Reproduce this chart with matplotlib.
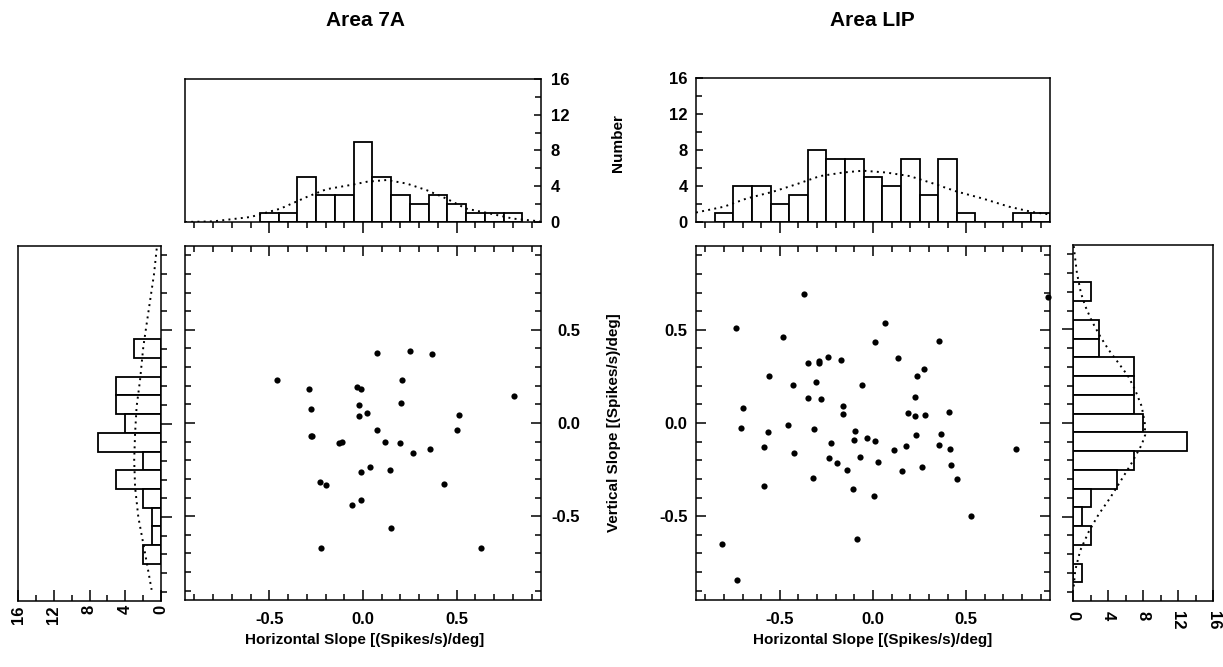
import numpy as np
import matplotlib
matplotlib.use('Agg')
import matplotlib.pyplot as plt
from matplotlib.ticker import MultipleLocator

plt.rcParams['font.family'] = 'Liberation Sans'
plt.rcParams['font.weight'] = 'bold'
plt.rcParams['axes.unicode_minus'] = False
plt.rcParams['axes.linewidth'] = 1.1

# ---- data ----
# Area 7A horizontal slope histogram
h7a_centers = [-0.5, -0.4, -0.3, -0.2, -0.1, 0.0, 0.1, 0.2, 0.3, 0.4, 0.5, 0.6, 0.7, 0.8]
h7a_counts = [1, 1, 5, 3, 3, 9, 5, 3, 2, 3, 2, 1, 1, 1]
h7a_fit_x = [-0.95, -0.80, -0.60, -0.44, -0.30, -0.195, -0.05, 0.02, 0.127, 0.233, 0.34, 0.447, 0.55, 0.68, 0.80, 0.945]
h7a_fit_n = [0.0, 0.07, 0.56, 1.5, 2.8, 3.67, 4.2, 4.5, 4.7, 4.3, 3.56, 2.6, 1.5, 0.94, 0.38, 0.07]

# Area 7A vertical slope histogram
v7a_centers = [0.4, 0.3, 0.2, 0.1, 0.0, -0.1, -0.2, -0.3, -0.4, -0.5, -0.6, -0.7]
v7a_counts = [3, 0, 5, 5, 4, 7, 2, 5, 2, 1, 1, 2]
v7a_fit_y = [0.936, 0.80, 0.535, 0.41, 0.23, 0.09, -0.053, -0.196, -0.34, -0.5, -0.69, -0.89]
v7a_fit_n = [0.48, 0.78, 1.6, 1.98, 2.35, 2.73, 2.9, 3.0, 2.9, 2.54, 1.8, 1.05]

# Area 7A scatter
s7a_x = [-0.46, -0.29, -0.28, -0.28, -0.27, -0.23, -0.20, -0.225, -0.13, -0.11, -0.03, -0.01,
         -0.02, -0.02, 0.02, -0.01, 0.04, -0.06, -0.01, 0.075, 0.075, 0.115, 0.145, 0.15,
         0.20, 0.21, 0.205, 0.265, 0.25, 0.37, 0.355, 0.43, 0.50, 0.515, 0.63, 0.805]
s7a_y = [0.23, 0.18, 0.076, -0.07, -0.07, -0.315, -0.335, -0.67, -0.105, -0.10, 0.195, 0.18,
         0.095, 0.035, 0.055, -0.265, -0.235, -0.44, -0.415, 0.375, -0.04, -0.10, -0.25, -0.565,
         -0.105, 0.23, 0.105, -0.16, 0.385, 0.37, -0.14, -0.33, -0.035, 0.045, -0.67, 0.145]

# Area LIP horizontal slope histogram
hlip_centers = [-0.8, -0.7, -0.6, -0.5, -0.4, -0.3, -0.2, -0.1, 0.0, 0.1, 0.2, 0.3, 0.4, 0.5, 0.6, 0.7, 0.8, 0.9]
hlip_counts = [1, 4, 4, 2, 3, 8, 7, 7, 5, 4, 7, 3, 7, 1, 0, 0, 1, 1]
hlip_fit_x = [-0.95, -0.80, -0.68, -0.536, -0.41, -0.285, -0.16, -0.054, 0.07, 0.197, 0.32, 0.447, 0.59, 0.73, 0.857, 0.94]
hlip_fit_n = [1.05, 1.7, 2.6, 3.37, 4.2, 5.1, 5.5, 5.7, 5.5, 5.1, 4.3, 3.4, 2.6, 1.7, 1.1, 0.86]

# Area LIP vertical slope histogram
vlip_centers = [0.7, 0.6, 0.5, 0.4, 0.3, 0.2, 0.1, 0.0, -0.1, -0.2, -0.3, -0.4, -0.5, -0.6, -0.7, -0.8]
vlip_counts = [2, 0, 3, 3, 7, 7, 7, 8, 13, 7, 5, 2, 1, 2, 0, 1]
vlip_fit_y = [0.944, 0.873, 0.80, 0.695, 0.624, 0.543, 0.463, 0.392, 0.32, 0.25, 0.178, 0.089, 0.0,
              -0.063, -0.116, -0.214, -0.30, -0.40, -0.49, -0.58, -0.68, -0.785, -0.874]
vlip_fit_n = [0.08, 0.26, 0.45, 0.9, 1.4, 2.16, 3.1, 4.05, 5.2, 6.3, 7.09, 7.85, 8.2,
              8.25, 7.85, 6.7, 5.57, 4.24, 2.9, 1.8, 0.83, 0.26, 0.08]

# Area LIP scatter
slip_x = [-0.81, -0.73, -0.737, -0.70, -0.71, -0.587, -0.585, -0.566, -0.56, -0.484, -0.455, -0.43,
          -0.426, -0.37, -0.348, -0.35, -0.323, -0.318, -0.307, -0.29, -0.289, -0.278, -0.24, -0.237,
          -0.227, -0.194, -0.17, -0.162, -0.16, -0.137, -0.11, -0.098, -0.10, -0.084, -0.07, -0.059,
          -0.03, 0.009, 0.009, 0.004, 0.027, 0.063, 0.113, 0.132, 0.157, 0.179, 0.188, 0.225,
          0.227, 0.229, 0.234, 0.261, 0.273, 0.28, 0.354, 0.355, 0.364, 0.41, 0.414, 0.42,
          0.45, 0.525, 0.77, 0.94]
slip_y = [-0.647, -0.84, 0.511, 0.08, -0.029, -0.127, -0.339, -0.05, 0.25, 0.46, -0.011, 0.205,
          -0.16, 0.69, 0.32, 0.135, -0.296, -0.034, 0.222, 0.335, 0.324, 0.13, 0.355, -0.19,
          -0.109, -0.216, 0.34, 0.089, 0.05, -0.25, -0.353, -0.041, -0.089, -0.622, -0.184, 0.206,
          -0.082, 0.433, -0.096, -0.39, -0.21, 0.538, -0.146, 0.347, -0.255, -0.121, 0.053, 0.137,
          0.039, -0.064, 0.253, -0.235, 0.289, 0.041, 0.442, -0.116, -0.059, 0.06, -0.141, -0.225,
          -0.298, -0.497, -0.141, 0.677]

slope_lim = (-0.95, 0.95)
count_lim = (0, 16)
tick_fs = 12
label_fs = 11
title_fs = 15

W, H = 1223, 667
fig = plt.figure(figsize=(W / 100, H / 100), dpi=100)


def box(x0, x1, y0, y1):
    # pixel box -> figure axes
    return fig.add_axes([x0 / W, 1 - y1 / H, (x1 - x0) / W, (y1 - y0) / H])


def slope_loc(axis):
    axis.set_major_locator(MultipleLocator(0.5))
    axis.set_minor_locator(MultipleLocator(0.1))


def count_loc(axis):
    axis.set_major_locator(MultipleLocator(4))
    axis.set_minor_locator(MultipleLocator(2))


bar_kw = dict(facecolor='white', edgecolor='black', linewidth=1.3)
fit_kw = dict(color='black', linestyle=(0, (1, 2.2)), linewidth=1.4)


def top_hist(ax, centers, counts, fx, fn, side):
    ax.bar(centers, counts, width=0.1, **bar_kw)
    ax.plot(fx, fn, **fit_kw)
    ax.set_xlim(slope_lim)
    ax.set_ylim(count_lim)
    slope_loc(ax.xaxis)
    count_loc(ax.yaxis)
    ax.tick_params(axis='x', which='both', direction='out', bottom=True, top=False, labelbottom=False)
    ax.tick_params(axis='x', which='major', length=8, width=1.1)
    ax.tick_params(axis='x', which='minor', length=4, width=1.1)
    if side == 'right':
        ax.tick_params(axis='y', which='both', direction='in', left=False, right=True,
                       labelleft=False, labelright=True, labelsize=tick_fs, pad=7)
    else:
        ax.tick_params(axis='y', which='both', direction='in', left=True, right=False,
                       labelleft=True, labelright=False, labelsize=tick_fs, pad=6)
    ax.tick_params(axis='y', which='major', length=5, width=1.1)
    ax.tick_params(axis='y', which='minor', length=4, width=1.1)


def side_hist(ax, centers, counts, fy, fn, side):
    ax.barh(centers, counts, height=0.1, **bar_kw)
    ax.plot(fn, fy, **fit_kw)
    ax.set_ylim(slope_lim)
    if side == 'left':
        ax.set_xlim(count_lim[::-1])
    else:
        ax.set_xlim(count_lim)
    slope_loc(ax.yaxis)
    count_loc(ax.xaxis)
    if side == 'left':
        ax.tick_params(axis='y', which='both', direction='out', left=False, right=True,
                       labelleft=False, labelright=False)
        ax.tick_params(axis='x', which='both', direction='in', labelsize=tick_fs,
                       labelrotation=90, pad=3)
    else:
        ax.tick_params(axis='y', which='both', direction='out', left=True, right=False,
                       labelleft=False, labelright=False)
        ax.tick_params(axis='x', which='both', direction='in', labelsize=tick_fs,
                       labelrotation=270, pad=7)
    ax.tick_params(which='major', length=8, width=1.1)
    ax.tick_params(which='minor', length=4, width=1.1)


def scatter_panel(ax, xs, ys, side):
    ax.scatter(xs, ys, s=20, color='black', linewidths=0, clip_on=False, zorder=3)
    ax.set_xlim(slope_lim)
    ax.set_ylim(slope_lim)
    slope_loc(ax.xaxis)
    slope_loc(ax.yaxis)
    ax.tick_params(which='both', direction='in', top=True, bottom=True, left=True, right=True,
                   labelsize=tick_fs, width=1.1)
    ax.tick_params(which='major', length=7)
    ax.tick_params(which='minor', length=4)
    ax.tick_params(axis='x', pad=9)
    ax.set_xticks([-0.5, 0.0, 0.5])
    ax.set_xticklabels(['-0.5', '0.0', '0.5'])
    ax.set_yticks([-0.5, 0.0, 0.5])
    ax.set_yticklabels(['-0.5', '0.0', '0.5'])
    if side == 'right':
        ax.tick_params(axis='y', labelleft=False, labelright=True, pad=28)
        for lab in ax.get_yticklabels():
            lab.set_horizontalalignment('right')
    else:
        ax.tick_params(axis='y', labelleft=True, labelright=False, pad=6)


# Area 7A
ax1 = box(185, 541, 79, 222)
top_hist(ax1, h7a_centers, h7a_counts, h7a_fit_x, h7a_fit_n, 'right')
ax2 = box(185, 541, 246, 600)
scatter_panel(ax2, s7a_x, s7a_y, 'right')
ax3 = box(18, 161, 246, 601)
side_hist(ax3, v7a_centers, v7a_counts, v7a_fit_y, v7a_fit_n, 'left')

# Area LIP
ax4 = box(696, 1050, 78, 222)
top_hist(ax4, hlip_centers, hlip_counts, hlip_fit_x, hlip_fit_n, 'left')
ax5 = box(696, 1050, 246, 600)
scatter_panel(ax5, slip_x, slip_y, 'left')
ax6 = box(1073, 1213, 245, 601)
side_hist(ax6, vlip_centers, vlip_counts, vlip_fit_y, vlip_fit_n, 'right')

# texts
fig.text(365 / W, 1 - 20 / H, 'Area 7A', ha='center', va='center', fontsize=title_fs, fontweight='bold')
fig.text(872 / W, 1 - 20 / H, 'Area LIP', ha='center', va='center', fontsize=title_fs, fontweight='bold')
fig.text(365 / W, 1 - 640 / H, 'Horizontal Slope [(Spikes/s)/deg]', ha='center', va='center',
         fontsize=label_fs, fontweight='bold')
fig.text(873 / W, 1 - 640 / H, 'Horizontal Slope [(Spikes/s)/deg]', ha='center', va='center',
         fontsize=label_fs, fontweight='bold')
fig.text(614 / W, 1 - 423 / H, 'Vertical Slope [(Spikes/s)/deg]', ha='center', va='center',
         rotation=90, fontsize=label_fs, fontweight='bold')
fig.text(618 / W, 1 - 143 / H, 'Number', ha='center', va='center', rotation=90,
         fontsize=label_fs, fontweight='bold')

fig.savefig('out.png', dpi=100)
